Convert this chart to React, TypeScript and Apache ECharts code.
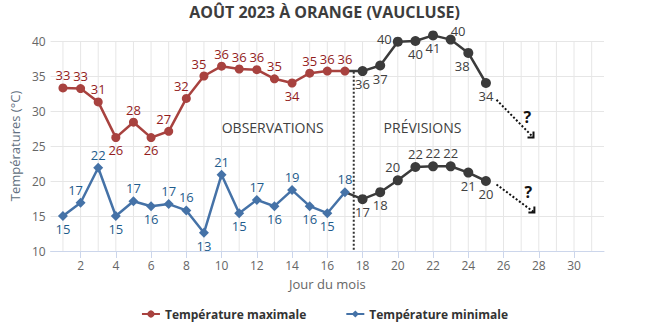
import React, { useEffect, useRef } from "react";
import * as echarts from "echarts";

// ---- data ----
const obsDays = [1, 2, 3, 4, 5, 6, 7, 8, 9, 10, 11, 12, 13, 14, 15, 16, 17];
const maxObs = [33.3, 33.2, 31.3, 26.2, 28.4, 26.2, 27.1, 31.8, 35.0, 36.4, 36.0, 35.9, 34.6, 34.0, 35.4, 35.7, 35.7];
const minObs = [15.0, 16.9, 21.9, 15.0, 17.1, 16.4, 16.7, 15.8, 12.6, 20.9, 15.4, 17.3, 16.4, 18.7, 16.4, 15.4, 18.4];

const fcDays = [18, 19, 20, 21, 22, 23, 24, 25];
const maxFc = [35.7, 36.5, 39.9, 40.0, 40.8, 40.2, 38.3, 34.0];
const minFc = [17.4, 18.4, 20.1, 22.0, 22.1, 22.1, 21.2, 20.0];

const xLabelValues = [2, 4, 6, 8, 10, 12, 14, 16, 18, 20, 22, 24, 26, 28, 30];
const gridDays = [1, 2, 3, 4, 5, 6, 7, 8, 9, 10, 11, 12, 13, 14, 15, 16, 17, 18, 19, 20, 21, 22, 23, 24, 25, 26, 27, 28, 29, 30, 31];

// label placements (style only)
const maxObsPos = ["top", "top", "top", "bottom", "top", "bottom", "topLeft", "topLeft", "topLeft", "top", "top", "top", "top", "bottom", "top", "top", "top"];
const minObsPos = ["bottom", "topLeft", "top", "bottom", "top", "bottom", "top", "top", "bottom", "top", "bottom", "top", "bottom", "top", "bottom", "bottom", "top"];
const maxFcPos = ["bottom", "bottom", "left", "bottom", "bottom", "topRight", "bottomLeft", "bottom"];
const minFcPos = ["bottom", "bottom", "topLeft", "top", "top", "top", "bottom", "bottom"];

// annotations (data coords)
const splitDay = 17.5;
const splitTop = 35.6;
const arrowMax = [[25.6, 31.6], [27.7, 26.2]];
const arrowMin = [[25.6, 19.5], [27.75, 15.5]];
const qMax = [27.35, 29.1];
const qMin = [27.4, 18.4];
const obsText = [12.9, 27.6];
const fcText = [21.4, 27.6];

const FONT = "'Open Sans', sans-serif";

function labelFor(pos: string) {
  const map: Record<string, any> = {
    top: { position: "top", offset: [0, 0] },
    bottom: { position: "bottom", offset: [0, 0] },
    left: { position: "left", offset: [0, -3] },
    topLeft: { position: "top", offset: [-5, 0] },
    topRight: { position: "right", offset: [-6, -9] },
    bottomLeft: { position: "bottom", offset: [-6, 0] },
  };
  return { ...map[pos] };
}

export default function App() {
  const ref = useRef<HTMLDivElement>(null);
  useEffect(() => {
    if (!ref.current) return;
    document.body.style.margin = "0";
    const chart = echarts.init(ref.current, null, { renderer: "svg" });
    const round = (p: any) => String(Math.round(p.value[1]));

    const labelBase = (color: string) => ({
      show: true,
      fontFamily: FONT,
      fontSize: 13,
      lineHeight: 14,
      color,
      distance: 1,
      formatter: round,
    });

    const option: any = {
      animation: false,
      textStyle: { fontFamily: FONT },
      title: {
        text: "AOÛT 2023 À ORANGE (VAUCLUSE)",
        left: "center",
        top: 4,
        padding: 0,
        textStyle: { fontFamily: FONT, fontSize: 16, fontWeight: "bold", color: "#3d3d3d", lineHeight: 16 },
      },
      legend: {
        data: ["Température maximale", "Température minimale"],
        top: 303,
        left: "center",
        itemGap: 39,
        itemWidth: 18,
        itemHeight: 9,
        textStyle: { fontFamily: FONT, fontSize: 12, fontWeight: "bold", color: "#333" },
      },
      grid: { left: 48, right: 45, top: 41, bottom: 75, containLabel: false },
      xAxis: {
        type: "value",
        min: 0.3,
        max: 31.7,
        name: "Jour du mois",
        nameLocation: "middle",
        nameGap: 26,
        nameTextStyle: { fontFamily: FONT, fontSize: 13, color: "#666" },
        axisLine: { show: true, lineStyle: { color: "#ccd6eb", width: 1 } },
        axisTick: { show: true, customValues: xLabelValues, length: 7, lineStyle: { color: "#ccd6eb" } },
        axisLabel: { customValues: xLabelValues, color: "#666", fontSize: 12, fontFamily: FONT, margin: 8 },
        splitLine: { show: false },
      },
      yAxis: {
        type: "value",
        min: 10,
        max: 40,
        interval: 5,
        name: "Températures (°C)",
        nameLocation: "middle",
        nameGap: 17,
        nameTextStyle: { fontFamily: FONT, fontSize: 13, color: "#5f6f80" },
        axisLine: { show: false },
        axisTick: { show: false },
        axisLabel: { color: "#666", fontSize: 12, fontFamily: FONT, margin: 5 },
        splitLine: { show: true, lineStyle: { color: "#e6e6e6", width: 1 } },
      },
      series: [
        {
          type: "custom",
          name: "grid",
          z: 0,
          silent: true,
          data: [[1, 20]],
          renderItem: (params: any, api: any) => ({
            type: "group",
            children: gridDays.map((d) => {
              const a = api.coord([d, 10]);
              const b = api.coord([d, 40]);
              return {
                type: "line",
                shape: { x1: a[0], y1: a[1], x2: b[0], y2: b[1] },
                style: { stroke: "#e6e6e6", lineWidth: 1 },
              };
            }),
          }),
        },
        {
          name: "Température maximale",
          type: "line",
          z: 3,
          clip: false,
          color: "#a8423f",
          symbol: "circle",
          symbolSize: 9,
          lineStyle: { width: 2.5, color: "#a8423f" },
          itemStyle: { color: "#a8423f" },
          label: labelBase("#931d1d"),
          data: obsDays.map((d, i) => ({ value: [d, maxObs[i]], label: labelFor(maxObsPos[i]) })),
        },
        {
          name: "Température minimale",
          type: "line",
          z: 3,
          clip: false,
          color: "#4572a7",
          symbol: "diamond",
          symbolSize: 10,
          lineStyle: { width: 2.5, color: "#4572a7" },
          itemStyle: { color: "#4572a7" },
          label: labelBase("#1f5c8c"),
          data: obsDays.map((d, i) => ({ value: [d, minObs[i]], label: labelFor(minObsPos[i]) })),
        },
        {
          name: "Prévision max",
          type: "line",
          z: 2,
          clip: false,
          symbol: "circle",
          symbolSize: 10,
          lineStyle: { width: 2.5, color: "#3b3b3b" },
          itemStyle: { color: "#3b3b3b" },
          label: labelBase("#404040"),
          data: [
            { value: [obsDays[obsDays.length - 1], maxObs[maxObs.length - 1]], symbolSize: 0, label: { show: false } },
            ...fcDays.map((d, i) => ({ value: [d, maxFc[i]], label: labelFor(maxFcPos[i]) })),
          ],
        },
        {
          name: "Prévision min",
          type: "line",
          z: 2,
          clip: false,
          symbol: "circle",
          symbolSize: 10,
          lineStyle: { width: 2.5, color: "#3b3b3b" },
          itemStyle: { color: "#3b3b3b" },
          label: labelBase("#404040"),
          data: [
            { value: [obsDays[obsDays.length - 1], minObs[minObs.length - 1]], symbolSize: 0, label: { show: false } },
            ...fcDays.map((d, i) => ({ value: [d, minFc[i]], label: labelFor(minFcPos[i]) })),
          ],
        },
        {
          type: "custom",
          name: "annotations",
          z: 5,
          silent: true,
          data: [[1, 20]],
          renderItem: (params: any, api: any) => {
            const children: any[] = [];
            const s1 = api.coord([splitDay, splitTop]);
            const s2 = api.coord([splitDay, 10]);
            children.push({
              type: "line",
              shape: { x1: s1[0], y1: s1[1], x2: s2[0], y2: s2[1] },
              style: { stroke: "#333", lineWidth: 2, lineDash: [2, 2] },
            });
            [arrowMax, arrowMin].forEach((ar) => {
              const a = api.coord(ar[0]);
              const b = api.coord(ar[1]);
              children.push({
                type: "line",
                shape: { x1: a[0], y1: a[1], x2: b[0], y2: b[1] },
                style: { stroke: "#111", lineWidth: 2, lineDash: [2, 2] },
              });
              children.push({
                type: "polyline",
                shape: { points: [[b[0] - 6, b[1]], [b[0], b[1]], [b[0], b[1] - 6]] },
                style: { stroke: "#111", lineWidth: 2, fill: null },
              });
            });
            [qMax, qMin].forEach((q) => {
              const p = api.coord(q);
              children.push({
                type: "text",
                x: p[0],
                y: p[1],
                style: { text: "?", font: `bold 16px ${FONT}`, fill: "#111", align: "center", verticalAlign: "middle" },
              });
            });
            [[obsText, "OBSERVATIONS"], [fcText, "PRÉVISIONS"]].forEach(([c, t]: any) => {
              const p = api.coord(c);
              children.push({
                type: "text",
                x: p[0],
                y: p[1],
                style: { text: t, font: `14px ${FONT}`, fill: "#404040", align: "center", verticalAlign: "middle" },
              });
            });
            return { type: "group", children };
          },
        },
      ],
    };
    chart.setOption(option);
    return () => chart.dispose();
  }, []);
  return <div ref={ref} style={{ width: 649, height: 326, position: "absolute", left: 0, top: 0 }} />;
}
